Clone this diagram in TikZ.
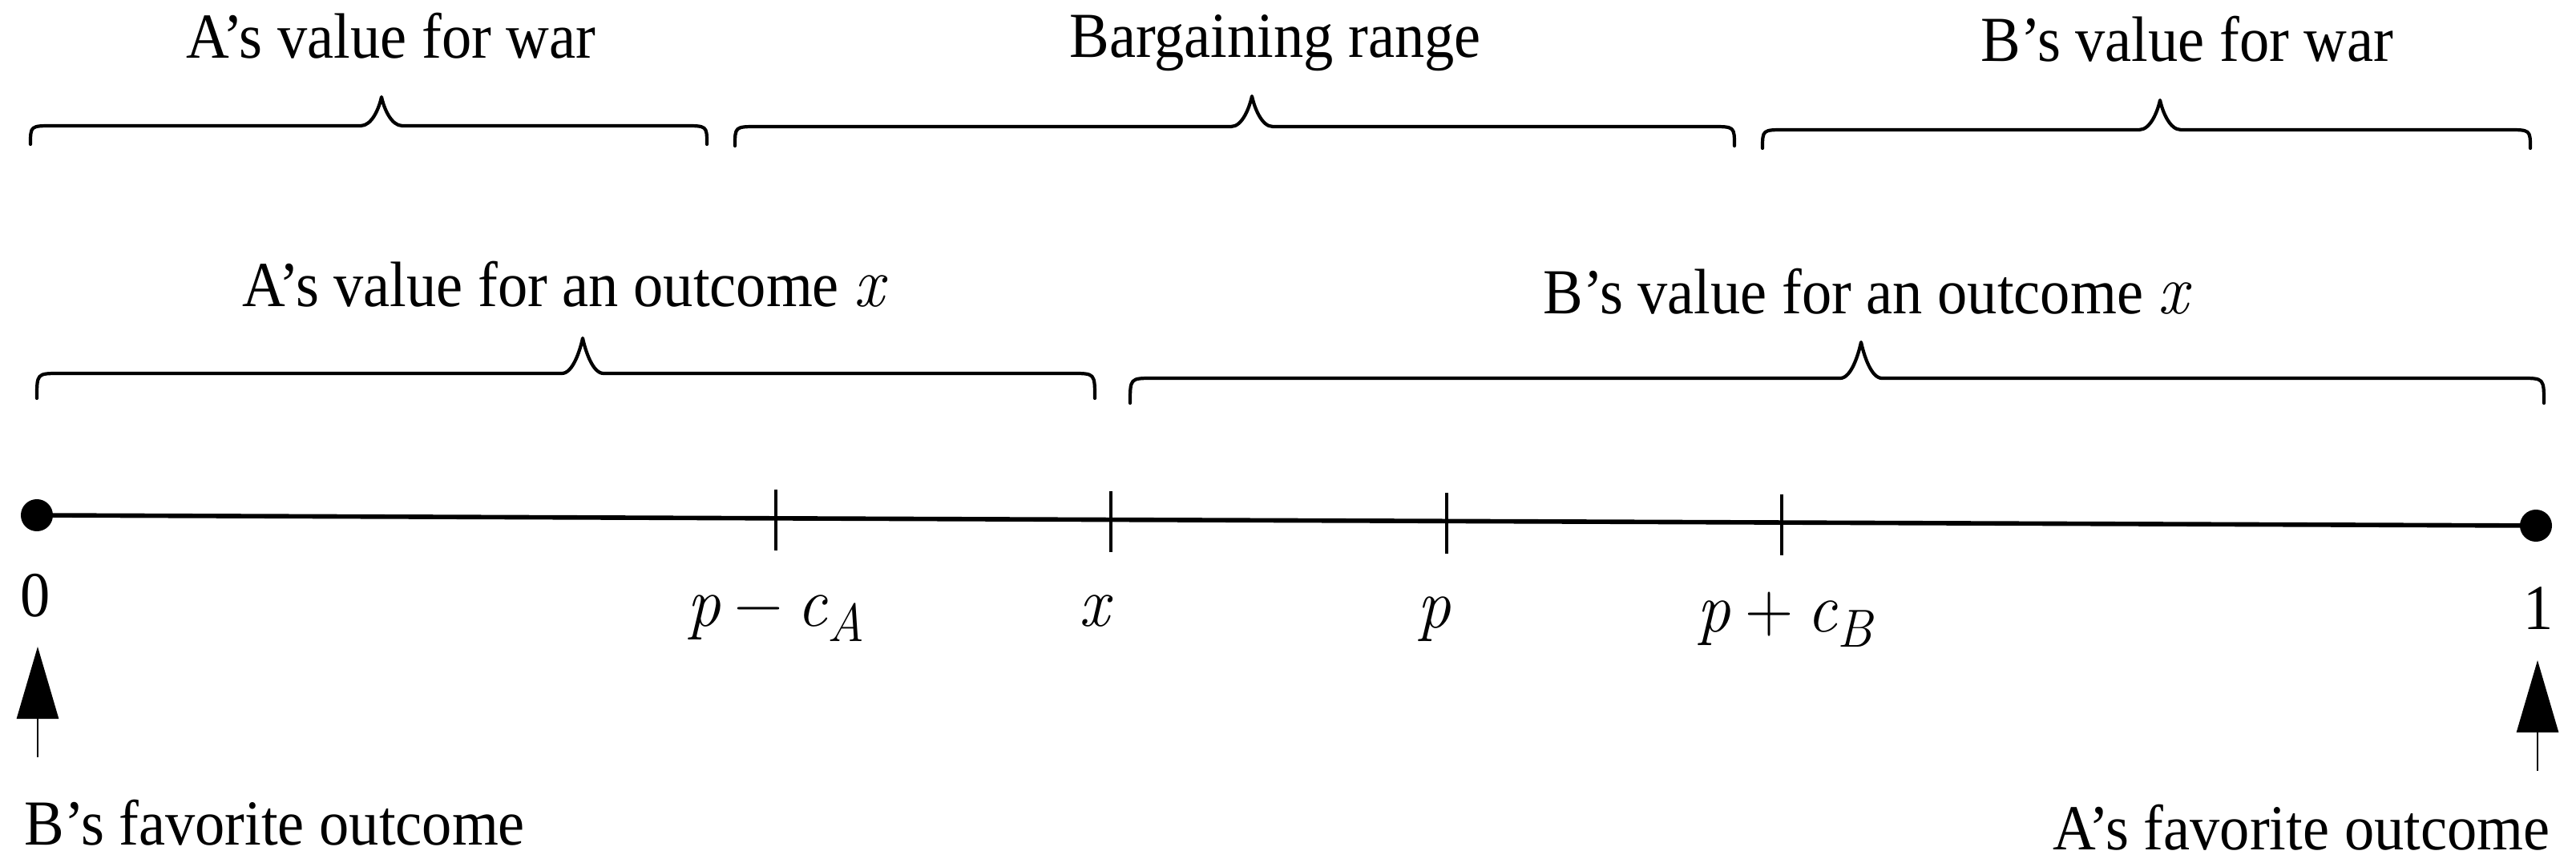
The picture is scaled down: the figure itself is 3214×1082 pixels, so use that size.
\documentclass[tikz,border=0pt]{standalone}
\usepackage{fontspec}
\setmainfont{Liberation Serif}[FakeStretch=0.93]
\newfontfamily\lmr{Latin Modern Roman}[FakeStretch=0.95]
\usetikzlibrary{arrows.meta}
\newcommand\mybrace[6]{%
  \draw[bracestyle] (#1,#4) .. controls (#1,#5) .. ({#1+28},#5)
    -- ({#3-26},#5) .. controls ({#3-12},#5) and ({#3-3},{#6+14}) .. (#3,#6)
    .. controls ({#3+3},{#6+14}) and ({#3+12},#5) .. ({#3+26},#5)
    -- ({#2-28},#5) .. controls (#2,#5) .. (#2,#4);}
\newcommand\mi[1]{{\lmr\itshape #1}}
\newcommand\msub[1]{\raisebox{-0.22em}{\fontsize{19pt}{21pt}\selectfont\lmr\itshape #1}}
\newcommand\mop[1]{\hspace{0.2em}{\lmr #1}\hspace{0.2em}}
\begin{document}
\begin{tikzpicture}[x=0.01cm,y=-0.01cm,
  lbl/.style={inner sep=0pt, anchor=base, font=\fontsize{22.76pt}{27pt}\selectfont},
  mlbl/.style={inner sep=0pt, anchor=base, font=\fontsize{25pt}{29pt}\selectfont},
  bracestyle/.style={line width=1.2pt, line cap=round, line join=round},
  axis/.style={line width=1.6pt},
  tickmark/.style={line width=1.1pt},
  dot/.style={circle, fill=black, inner sep=0pt, minimum size=0.4cm},
  uparrow/.style={line width=0.8pt, -{Triangle[length=0.9cm,width=0.52cm]}}]
\fill[white] (0,0) rectangle (3214,1082);
\useasboundingbox (0,0) rectangle (3214,1082);

% top labels and braces
\node[lbl] (tw1) at (488,73) {A’s value for war};
\node[lbl] (tw2) at (1591,72) {Bargaining range};
\node[lbl] (tw3) at (2729,77) {B’s value for war};
\mybrace{38}{882}{476}{180}{157}{121}
\mybrace{917}{2164}{1562}{182}{158}{120}
\mybrace{2199}{3157}{2695}{185}{162}{125}

% second row
\node[lbl] (to1) at (703,383) {A’s value for an outcome {\fontsize{25pt}{29pt}\selectfont\mi{x}}};
\node[lbl] (to2) at (2328,392) {B’s value for an outcome {\fontsize{25pt}{29pt}\selectfont\mi{x}}};
\mybrace{46}{1366}{727}{497}{466}{422}
\mybrace{1410}{3174}{2322}{503}{472}{427}

% number line
\node[dot] (d0) at (46,643) {};
\node[dot] (d1) at (3164,656) {};
\draw[axis] (d0.center) -- (d1.center);
\coordinate (t1) at (968,647);
\coordinate (t2) at (1386,649);
\coordinate (t3) at (1805,651);
\coordinate (t4) at (2223,653);
\foreach \t in {t1,t2,t3,t4}{\draw[tickmark] (\t) ++(0,-36) -- ++(0,76);}

% tick labels
\node[lbl] (l0) at (44,769) {0};
\node[mlbl] (l1) at (968,781) {\mi{p}\mop{−}\mi{c}\msub{A}};
\node[mlbl] (l2) at (1365,781) {\mi{x}};
\node[mlbl] (l3) at (1789,783) {\mi{p}};
\node[mlbl] (l4) at (2227,788) {\mi{p}\mop{+}\mi{c}\msub{B}};
\node[lbl] (l5) at (3167,785) {1};

% arrows
\coordinate (a0s) at (47,945);
\coordinate (a0e) at (47,807);
\coordinate (a1s) at (3166,962);
\coordinate (a1e) at (3166,824);
\draw[uparrow] (a0s) -- (a0e);
\draw[uparrow] (a1s) -- (a1e);

% bottom labels
\node[lbl, anchor=base west] (f0) at (30,1054) {B’s favorite outcome};
\node[lbl, anchor=base east] (f1) at (3182,1060) {A’s favorite outcome};
\end{tikzpicture}
\end{document}
